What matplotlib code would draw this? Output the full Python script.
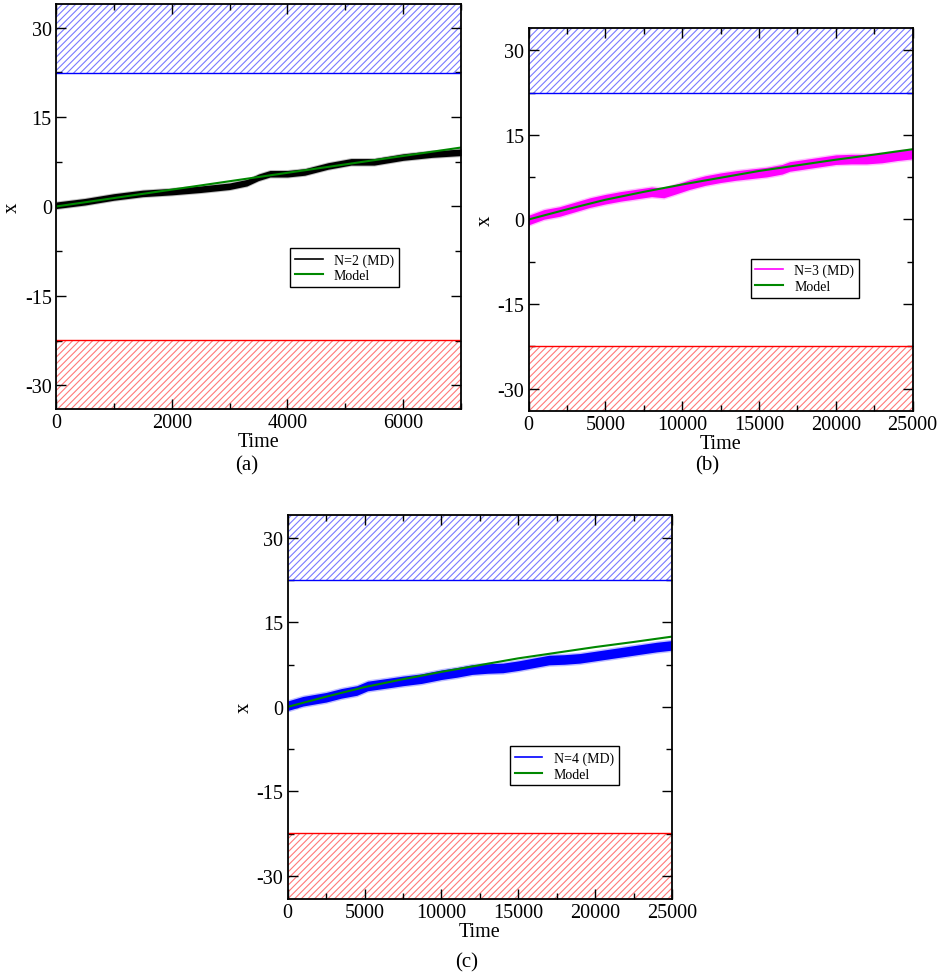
import numpy as np
import matplotlib
matplotlib.use('Agg')
import matplotlib.pyplot as plt
from matplotlib.ticker import MultipleLocator

plt.rcParams['font.family'] = ['Liberation Serif', 'DejaVu Serif']
plt.rcParams['hatch.linewidth'] = 0.8
plt.rcParams['axes.unicode_minus'] = False

# (a) N=2 trajectory
time_a = [0, 500, 1000, 1500, 2000, 2500, 3000, 3300, 3500, 3700, 4000, 4300,
          4700, 5100, 5500, 6000, 6500, 7000]
md_a = [0.2, 0.8, 1.6, 2.2, 2.5, 2.9, 3.4, 4.0, 4.9, 5.5, 5.5, 5.8,
        6.8, 7.5, 7.5, 8.3, 8.8, 9.1]
model_time_a = [0, 3500, 7000]
model_a = [0, 4.95, 9.9]

# (b) N=3 trajectory
time_b = [0, 1000, 2000, 3000, 4000, 5000, 6000, 7000, 8000, 8800, 9500,
          10500, 11500, 12500, 13500, 14500, 15500, 16500, 17000, 18000,
          19000, 20000, 21000, 22000, 23000, 24000, 25000]
md_b = [-0.1, 0.9, 1.4, 2.2, 3.0, 3.6, 4.1, 4.5, 4.9, 4.7, 5.3,
        6.2, 6.9, 7.4, 7.8, 8.1, 8.4, 8.9, 9.4, 9.8,
        10.2, 10.6, 10.7, 10.7, 10.9, 11.3, 11.6]

# (c) N=4 trajectory
time_c = [0, 1000, 2500, 3500, 4500, 5200, 6500, 7500, 8700, 10000, 11000,
          12000, 13000, 14000, 15000, 16000, 17000, 18000, 19000, 20000,
          21000, 22000, 23000, 24000, 25000]
md_c = [0.2, 1.0, 1.7, 2.4, 2.9, 3.7, 4.2, 4.6, 5.0, 5.7, 6.1,
        6.6, 6.8, 6.9, 7.3, 7.8, 8.3, 8.4, 8.6, 9.0,
        9.4, 9.8, 10.2, 10.6, 10.9]

# model curve used in (b) and (c)
model_time_bc = [0, 2500, 5000, 7500, 10000, 12500, 15000, 17500, 20000, 22500, 25000]
model_bc = [0, 1.8, 3.5, 4.9, 6.2, 7.4, 8.6, 9.6, 10.6, 11.5, 12.45]

wall = 22.4
ylim = 34


def draw_panel(ax, t, md, spread, color, label, mt, mv, xmax, xmajor):
    # walls
    ax.axhspan(wall, ylim, facecolor='none', edgecolor='#7a7aff', hatch='/////', linewidth=0, zorder=1)
    ax.axhspan(-ylim, -wall, facecolor='none', edgecolor='#ff7a7a', hatch='/////', linewidth=0, zorder=1)
    ax.axhline(wall, color='blue', lw=1, zorder=2)
    ax.axhline(-wall, color='red', lw=1, zorder=2)

    t = np.array(t)
    md = np.array(md)
    ax.fill_between(t, md - spread * 1.3, md + spread * 1.3, color=color, alpha=0.25, lw=0, zorder=3)
    ax.fill_between(t, md - spread, md + spread, color=color, lw=0, zorder=3)
    ax.plot(t, md, color=color, lw=1.2, label=label, zorder=3)
    ax.plot(mt, mv, color='#008800', lw=1.5, label='Model', zorder=4)

    ax.set_xlim(0, xmax)
    ax.set_ylim(-ylim, ylim)
    ax.xaxis.set_major_locator(MultipleLocator(xmajor))
    ax.xaxis.set_minor_locator(MultipleLocator(xmajor / 2))
    ax.yaxis.set_major_locator(MultipleLocator(15))
    ax.yaxis.set_minor_locator(MultipleLocator(7.5))
    ax.tick_params(which='both', direction='in', top=True, right=True, labelsize=14.5, pad=3)
    ax.tick_params(which='major', length=7, width=1)
    ax.tick_params(which='minor', length=4, width=1)
    for sp in ax.spines.values():
        sp.set_linewidth(1.3)
        sp.set_zorder(6)
    ax.set_xlabel('Time', fontsize=14.5, labelpad=0)
    ax.set_ylabel('x', fontsize=15, labelpad=2)

    leg = ax.legend(loc='upper left', bbox_to_anchor=(0.578, 0.397), borderaxespad=0,
                    fontsize=10, frameon=True, fancybox=False, framealpha=1,
                    handlelength=2.0, handletextpad=0.8, borderpad=0.35, labelspacing=0.2)
    leg.get_frame().set_edgecolor('black')
    leg.get_frame().set_linewidth(1)
    leg.set_zorder(7)


fig = plt.figure(figsize=(9.41, 9.79), dpi=100)

ax_a = fig.add_axes([0.0595, 0.5812, 0.4304, 0.4137])
draw_panel(ax_a, time_a, md_a, 0.55, 'black', 'N=2 (MD)', model_time_a, model_a, 7000, 2000)

ax_b = fig.add_axes([0.5618, 0.5789, 0.4081, 0.3918])
draw_panel(ax_b, time_b, md_b, 0.85, '#ff00ff', 'N=3 (MD)', model_time_bc, model_bc, 25000, 5000)

ax_c = fig.add_axes([0.3057, 0.0810, 0.4084, 0.3919])
draw_panel(ax_c, time_c, md_c, 0.85, '#0000ff', 'N=4 (MD)', model_time_bc, model_bc, 25000, 5000)

fig.text(0.262, 0.524, '(a)', fontsize=15, ha='center', va='center')
fig.text(0.751, 0.524, '(b)', fontsize=15, ha='center', va='center')
fig.text(0.496, 0.0163, '(c)', fontsize=15, ha='center', va='center')

fig.savefig('out.png', dpi=100)
